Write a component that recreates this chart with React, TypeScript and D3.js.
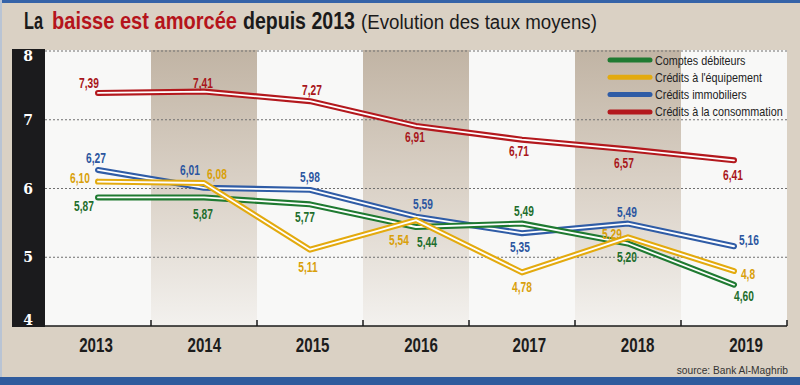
import * as d3 from "d3"
import { useEffect, useRef } from "react"

// data
const years = ["2013", "2014", "2015", "2016", "2017", "2018", "2019"]
const comptesDebiteurs = [5.87, 5.87, 5.77, 5.44, 5.49, 5.2, 4.6]
const creditsEquipement = [6.1, 6.08, 5.11, 5.54, 4.78, 5.29, 4.8]
const creditsImmobiliers = [6.27, 6.01, 5.98, 5.59, 5.35, 5.49, 5.16]
const creditsConsommation = [7.39, 7.41, 7.27, 6.91, 6.71, 6.57, 6.41]
const yTicks = [4, 5, 6, 7, 8]

// label placement (dx, dy from the point)
const labelOffsets = {
	green: [[-14, 8], [-1, 16], [-5, 12], [11, 15], [2, -13], [-1, 13], [10, 11]],
	yellow: [[-18, -4], [13, -9], [-2, 17], [-17, 19], [0, 14], [-16, -4], [14, 3]],
	blue: [[-2, -12], [-14, -18], [0, -13], [7, -13], [-2, 13], [-1, -12], [15, -7]],
	red: [[-9, -10], [-1, -9], [2, -12], [-1, 11], [-3, 11], [-4, 13], [-1, 14]],
}
// one label in the source is printed with a single decimal
const labelOverride = { yellow: { 6: "4,8" } }

const series = [
	{ key: "blue", name: "Crédits immobiliers", values: creditsImmobiliers, color: "#2f5ca6", text: "#2c56a0" },
	{ key: "green", name: "Comptes débiteurs", values: comptesDebiteurs, color: "#1f7a31", text: "#1e6e2c" },
	{ key: "yellow", name: "Crédits à l'équipement", values: creditsEquipement, color: "#e3aa0e", text: "#d9a00a" },
	{ key: "red", name: "Crédits à la consommation", values: creditsConsommation, color: "#b3181d", text: "#a8161b" },
]
const legendOrder = ["green", "yellow", "blue", "red"]

const sans = "'Liberation Sans', Arial, sans-serif"

// squeeze a text horizontally around its anchor point
function condense(sel, sx) {
	sel.each(function () {
		const t = d3.select(this)
		const x = +t.attr("x") || 0
		const y = +t.attr("y") || 0
		t.attr("x", 0).attr("y", 0).attr("transform", `translate(${x},${y}) scale(${sx},1)`)
	})
}

export default function App() {
	const svgRef = useRef()

	useEffect(() => {
		document.body.style.margin = "0"
		const svg = d3.select(svgRef.current)
		svg.selectAll("*").remove()

		const W = 800, H = 385
		const plot = { left: 45, right: 787, top: 50, bottom: 326 }

		// background
		svg.append("rect").attr("width", W).attr("height", H).attr("fill", "#dad1c4")
		svg.append("rect").attr("width", W).attr("height", 3).attr("fill", "#3563a8")
		svg.append("rect").attr("y", 377).attr("width", W).attr("height", 8).attr("fill", "#2f5b9d")
		svg.append("rect").attr("width", 2).attr("height", 377).attr("fill", "#b9c4d4")

		// title, each part fitted to its width
		const title = svg.append("g").attr("font-family", sans)
		const titleParts = [
			{ t: "La", x: 24, w: 19, c: "#1a1a1a", b: true },
			{ t: "baisse est amorcée", x: 52, w: 185, c: "#b5141b", b: true },
			{ t: "depuis 2013", x: 243, w: 112, c: "#1a1a1a", b: true },
			{ t: "(Evolution des taux moyens)", x: 361, w: 236, c: "#1a1a1a", b: false },
		]
		titleParts.forEach(p => {
			const t = title.append("text")
				.attr("font-size", p.b ? 24 : 21)
				.attr("font-weight", p.b ? "bold" : "normal")
				.attr("fill", p.c)
				.text(p.t)
			const natural = t.node().getComputedTextLength()
			t.attr("transform", `translate(${p.x},29) scale(${p.w / natural},1)`)
		})

		// scales
		const xBand = d3.scaleBand().domain(years).range([plot.left, plot.right])
		const x = d => xBand(d) + xBand.bandwidth() / 2
		const xLabel = d3.scalePoint().domain(years).range([96, 746])
		const y = d3.scaleLinear().domain([4, 8]).range([plot.bottom, plot.top + 1])

		// plot background + shaded columns
		const defs = svg.append("defs")
		const grad = defs.append("linearGradient").attr("id", "band").attr("x1", 0).attr("x2", 0).attr("y1", 0).attr("y2", 1)
		grad.append("stop").attr("offset", "0%").attr("stop-color", "#c1b4a4")
		grad.append("stop").attr("offset", "55%").attr("stop-color", "#ddd5cb")
		grad.append("stop").attr("offset", "100%").attr("stop-color", "#f3f1ee")

		svg.append("rect")
			.attr("x", plot.left).attr("y", plot.top)
			.attr("width", plot.right - plot.left).attr("height", plot.bottom - plot.top)
			.attr("fill", "#f8f8f7")

		svg.append("g")
			.selectAll("rect")
			.data(years.filter((d, i) => i % 2 === 1))
			.enter()
			.append("rect")
			.attr("x", d => xBand(d))
			.attr("y", plot.top)
			.attr("width", xBand.bandwidth())
			.attr("height", plot.bottom - plot.top)
			.attr("fill", "url(#band)")

		// grid
		svg.append("g")
			.selectAll("line")
			.data(yTicks.filter(d => d > 4))
			.enter()
			.append("line")
			.attr("x1", plot.left).attr("x2", plot.right)
			.attr("y1", d => y(d)).attr("y2", d => y(d))
			.attr("stroke", "#6f6f6f")
			.attr("stroke-width", 1)
			.attr("stroke-dasharray", "2,2")

		// left black axis column
		svg.append("rect")
			.attr("x", 12).attr("y", plot.top - 1)
			.attr("width", plot.left - 12).attr("height", plot.bottom - plot.top + 2)
			.attr("fill", "#1b1b1d")

		svg.append("g")
			.selectAll("text")
			.data(yTicks)
			.enter()
			.append("text")
			.attr("x", 28)
			.attr("y", d => Math.min(Math.max(y(d), plot.top + 6), plot.bottom - 6))
			.attr("dy", "0.36em")
			.attr("text-anchor", "middle")
			.attr("font-family", "'DejaVu Serif', serif")
			.attr("font-weight", "bold")
			.attr("font-size", 14)
			.attr("fill", "#ffffff")
			.text(d => d)

		// bottom axis
		svg.append("line")
			.attr("x1", plot.left).attr("x2", plot.right)
			.attr("y1", plot.bottom).attr("y2", plot.bottom)
			.attr("stroke", "#1a1a1a").attr("stroke-width", 1.5)

		svg.append("g")
			.selectAll("line")
			.data(years)
			.enter()
			.append("line")
			.attr("x1", d => xBand(d) + xBand.bandwidth())
			.attr("x2", d => xBand(d) + xBand.bandwidth())
			.attr("y1", plot.bottom - 6).attr("y2", plot.bottom)
			.attr("stroke", "#1a1a1a").attr("stroke-width", 1.5)

		svg.append("g")
			.selectAll("text")
			.data(years)
			.enter()
			.append("text")
			.attr("x", d => xLabel(d))
			.attr("y", 352)
			.attr("text-anchor", "middle")
			.attr("font-family", sans)
			.attr("font-weight", "bold")
			.attr("font-size", 21)
			.attr("fill", "#1c1c1c")
			.text(d => d)
			.call(condense, 0.72)

		// lines: colored stroke with a white core
		const line = d3.line()
			.x((d, i) => x(years[i]))
			.y(d => y(d))

		const lines = svg.append("g")
		series.forEach(s => {
			lines.append("path")
				.attr("d", line(s.values))
				.attr("fill", "none")
				.attr("stroke", s.color)
				.attr("stroke-width", 6)
				.attr("stroke-linejoin", "round")
				.attr("stroke-linecap", "round")
			lines.append("path")
				.attr("d", line(s.values))
				.attr("fill", "none")
				.attr("stroke", "#ffffff")
				.attr("stroke-width", 1.8)
				.attr("stroke-linejoin", "round")
				.attr("stroke-linecap", "round")
		})

		// value labels
		const fmt = v => d3.format(".2f")(v).replace(".", ",")
		series.forEach(s => {
			svg.append("g")
				.selectAll("text")
				.data(s.values)
				.enter()
				.append("text")
				.attr("x", (d, i) => x(years[i]) + labelOffsets[s.key][i][0])
				.attr("y", (d, i) => y(d) + labelOffsets[s.key][i][1])
				.attr("dy", "0.36em")
				.attr("text-anchor", "middle")
				.attr("font-family", sans)
				.attr("font-weight", "bold")
				.attr("font-size", 15)
				.attr("fill", s.text)
				.text((d, i) => (labelOverride[s.key] && labelOverride[s.key][i]) || fmt(d))
				.call(condense, 0.68)
		})

		// legend
		const legend = svg.append("g")
		legendOrder.forEach((k, i) => {
			const s = series.find(d => d.key === k)
			const ly = 60 + i * 17.3
			legend.append("line")
				.attr("x1", 610).attr("x2", 650)
				.attr("y1", ly).attr("y2", ly)
				.attr("stroke", s.color)
				.attr("stroke-width", 5)
				.attr("stroke-linecap", "round")
			legend.append("text")
				.text(s.name)
				.attr("x", 655)
				.attr("y", ly)
				.attr("dy", "0.35em")
				.attr("font-family", sans)
				.attr("font-size", 13)
				.attr("fill", "#222")
				.call(condense, 0.83)
		})

		// source
		svg.append("text")
			.text("source: Bank Al-Maghrib")
			.attr("x", 788)
			.attr("y", 374)
			.attr("text-anchor", "end")
			.attr("font-family", sans)
			.attr("font-size", 11)
			.attr("fill", "#333")
			.call(condense, 0.93)
	}, [])

	return <svg ref={svgRef} width={800} height={385} style={{ display: "block" }} />
}
